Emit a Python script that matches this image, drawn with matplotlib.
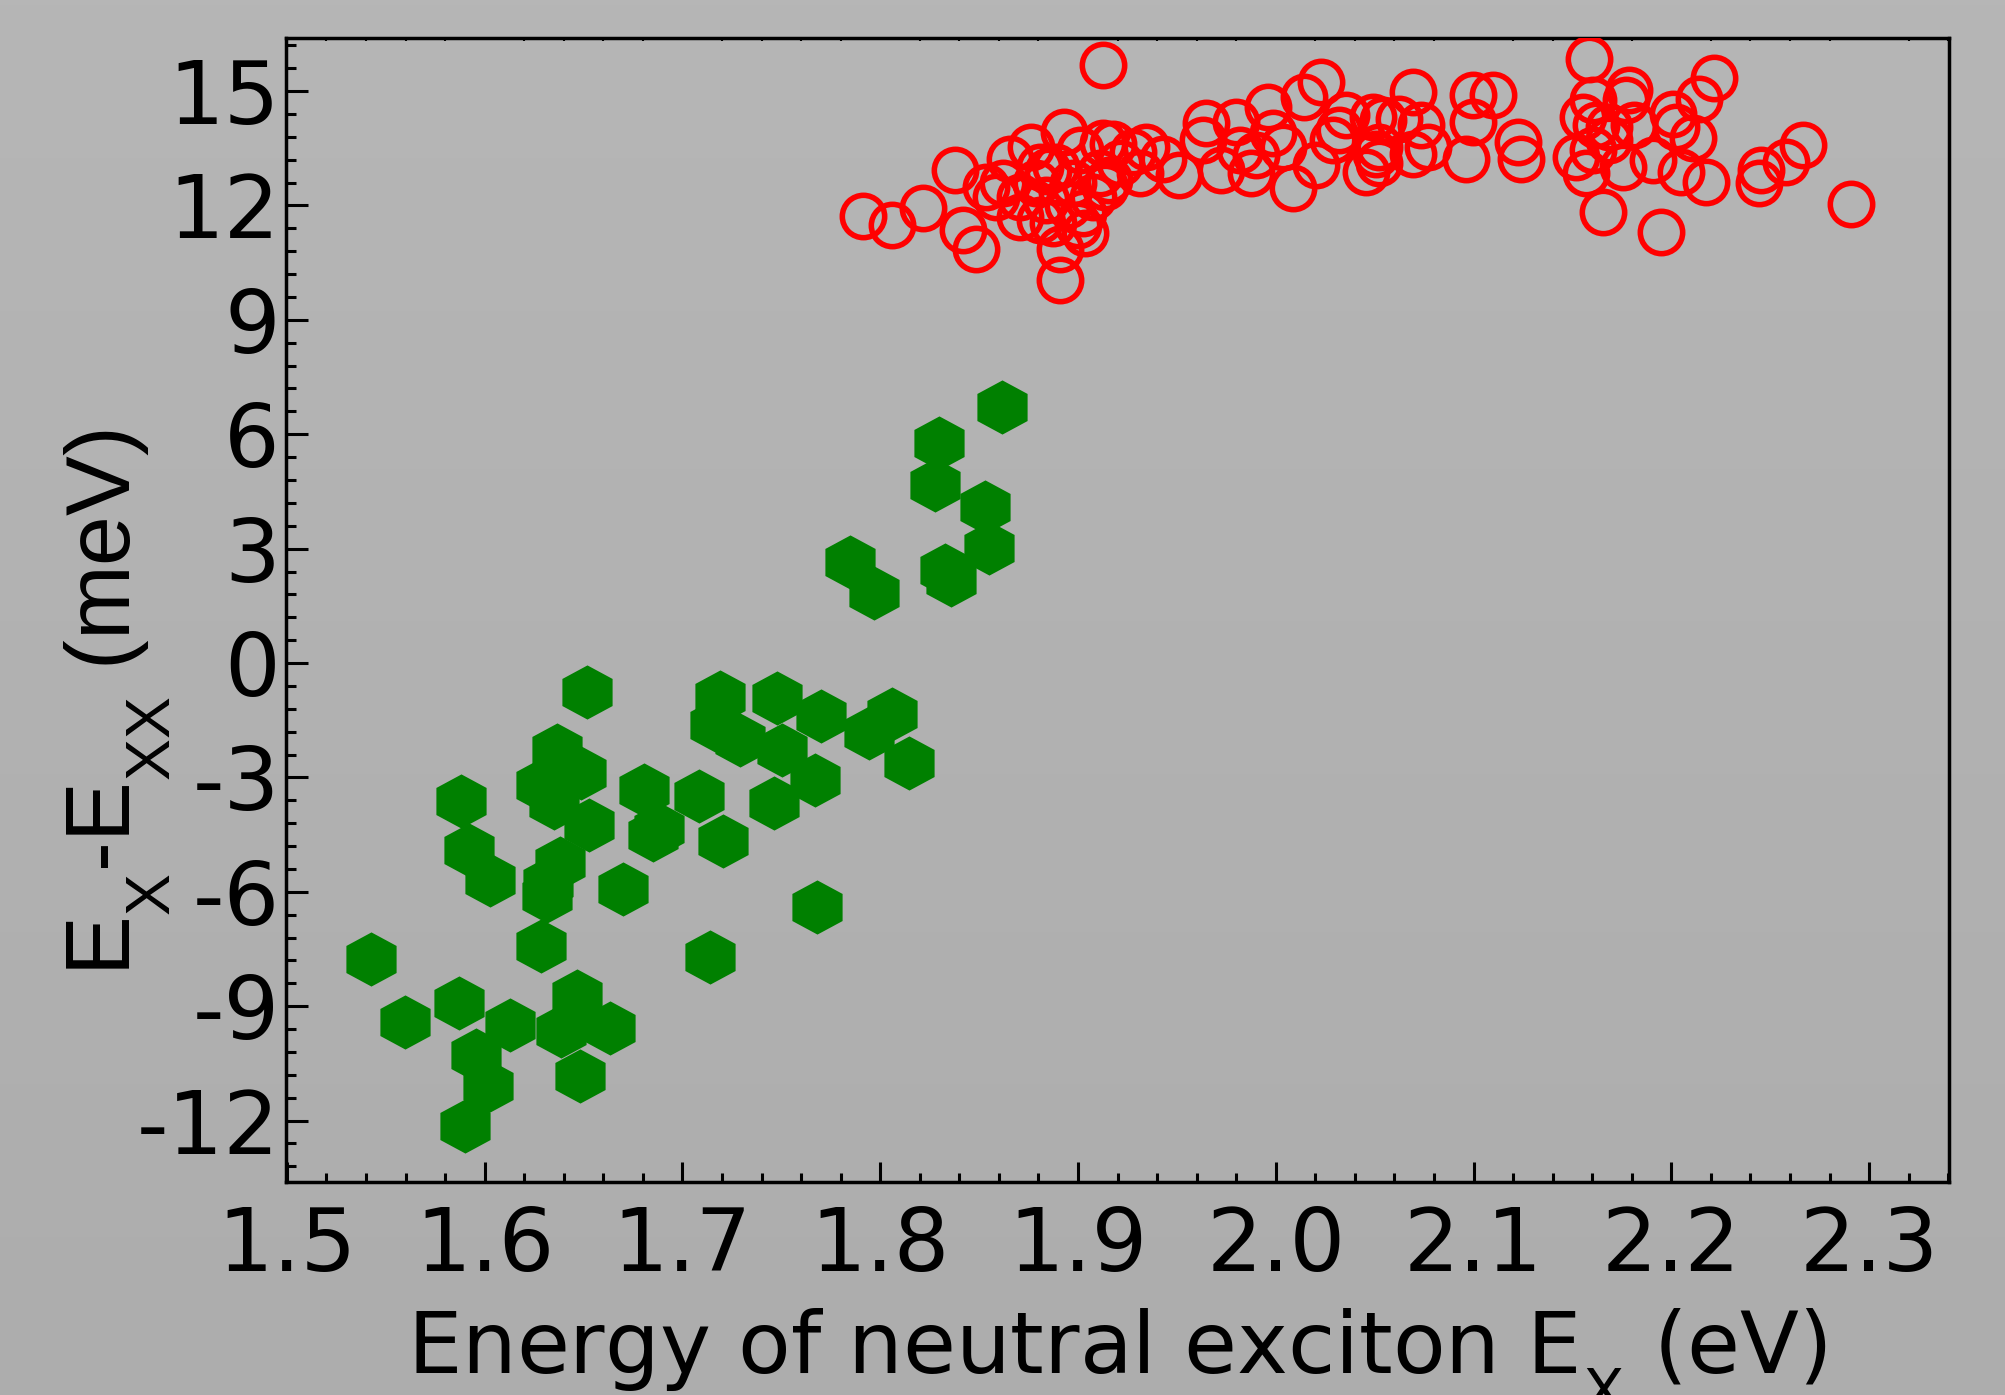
import numpy as np
import matplotlib
matplotlib.use("Agg")
import matplotlib.pyplot as plt
from matplotlib.ticker import MultipleLocator

plt.rcParams['font.family'] = ['DejaVu Sans']
plt.rcParams['axes.unicode_minus'] = False
# lower subscripts, as in the reference labels
try:
    import matplotlib._mathtext as _mt
    _mt.FontConstantsBase.subdrop = 0.85
    _mt.FontConstantsBase.sub1 = 0.85
except Exception:
    pass

# ---- data: biexciton (X - XX) energies, green hexagons ----
green_x = [1.5425, 1.5597, 1.5870, 1.5879, 1.5920, 1.6025, 1.5958, 1.6019, 1.5902, 1.6127,
           1.6285, 1.6319, 1.6314, 1.6382, 1.6364, 1.6285, 1.6488, 1.6353, 1.6529, 1.6515,
           1.6465, 1.6387, 1.6635, 1.6481, 1.6698, 1.6804, 1.6853, 1.6880, 1.7086, 1.7205,
           1.7137, 1.7192, 1.7165, 1.7289, 1.7478, 1.7503, 1.7700, 1.8060, 1.7943, 1.8146,
           1.7672, 1.7462, 1.7679, 1.7846, 1.7969, 1.8279, 1.8296, 1.8326, 1.8360, 1.8528,
           1.8550, 1.8617]
green_y = [-7.76, -9.42, -8.92, -3.63, -4.90, -5.69, -10.27, -11.10, -12.15, -9.49,
           -7.42, -5.77, -6.12, -5.25, -2.28, -3.20, -2.89, -3.68, -4.24, -0.75,
           -8.74, -9.66, -9.57, -10.84, -5.92, -3.33, -4.51, -4.35, -3.50, -4.68,
           -7.70, -0.90, -1.62, -2.02, -0.92, -2.28, -1.40, -1.34, -1.84, -2.63,
           -3.06, -3.68, -6.39, 2.66, 1.83, 4.67, 5.76, 2.44, 2.18, 4.10,
           3.01, 6.72]

# ---- data: red open circles ----
red_x = [1.7913, 1.8057, 1.8216, 1.8376, 1.8418, 1.8483, 1.8537, 1.8587, 1.8654, 1.8764,
         1.8927, 1.9008, 1.8705, 1.8705, 1.8789, 1.8840, 1.8873, 1.8907, 1.8907, 1.8974,
         1.9025, 1.9033, 1.9075, 1.9109, 1.9126, 1.9126, 1.8806, 1.8890, 1.8806, 1.9176,
         1.8620, 1.8950, 1.9000, 1.8850,
         1.9134, 1.9277, 1.9345, 1.9311, 1.9210, 1.9513, 1.9429, 1.9648, 1.9631, 1.9800,
         1.9724, 1.9817, 1.9876, 1.9901, 1.9960, 1.9985, 2.0086, 2.0145, 2.0229, 2.0204,
         2.0288, 2.0356, 2.0322, 2.0457, 2.0490, 2.0507, 2.0035, 1.9159,
         2.0692, 2.0541, 2.0625, 2.0735, 2.0524, 2.0524, 2.0692, 2.0768, 2.0996, 2.1097,
         2.0996, 2.0962, 2.1223, 2.1240, 2.1585, 2.1602, 2.1551, 2.1620, 2.1518, 2.1568,
         2.1602, 2.1686, 2.1652, 2.1771, 2.1754, 2.1810,
         2.1787, 2.1686, 2.1905, 2.2006, 2.2023, 2.2141, 2.2217, 2.2107, 2.2048, 2.2174,
         2.1947, 2.2444, 2.2453, 2.2579, 2.2663, 2.2910]
red_y = [11.73, 11.48, 11.92, 12.93, 11.35, 10.85, 12.49, 12.23, 13.23, 13.54,
         13.93, 13.45, 12.23, 11.70, 12.58, 12.14, 11.53, 10.87, 10.04, 12.58,
         11.79, 11.27, 12.23, 12.84, 13.63, 15.68, 13.01, 13.01, 11.61, 13.62,
         12.60, 12.00, 11.50, 12.90,
         12.49, 13.41, 13.54, 12.84, 13.10, 12.79, 13.23, 14.15, 13.71, 14.19,
         12.93, 13.45, 12.84, 13.32, 14.58, 13.89, 12.45, 14.85, 15.24, 13.06,
         13.71, 14.37, 13.97, 12.88, 14.32, 13.36, 13.54, 12.66,
         14.98, 14.24, 14.28, 14.10, 13.54, 13.10, 13.36, 13.54, 14.89, 14.89,
         14.19, 13.23, 13.67, 13.23, 15.85, 14.76, 14.32, 14.10, 13.27, 12.84,
         13.45, 13.71, 11.83, 14.76, 13.01, 14.10,
         15.02, 14.06, 13.19, 14.41, 14.06, 14.80, 15.33, 13.76, 12.88, 12.62,
         11.31, 12.58, 12.93, 13.14, 13.58, 12.03]

x_ticks = [1.5, 1.6, 1.7, 1.8, 1.9, 2.0, 2.1, 2.2, 2.3]
x_ticklabels = ['1.5', '1.6', '1.7', '1.8', '1.9', '2.0', '2.1', '2.2', '2.3']
y_ticks = [-12, -9, -6, -3, 0, 3, 6, 9, 12, 15]
y_ticklabels = ['-12', '-9', '-6', '-3', '0', '3', '6', '9', '12', '15']

fig = plt.figure(figsize=(20.05, 13.95), dpi=100)

# subtle vertical gradient background
bg = fig.add_axes([0, 0, 1, 1], zorder=-10)
grad = np.linspace(0, 1, 256).reshape(-1, 1)
bg.imshow(grad, aspect='auto', cmap=matplotlib.colors.LinearSegmentedColormap.from_list(
    'g', ['#b6b6b6', '#adadad']), extent=[0, 1, 0, 1], origin='upper')
bg.set_axis_off()

ax = fig.add_axes([0.1424, 0.1527, 0.9721 - 0.1424, 0.973 - 0.1527])
ax.set_facecolor('none')

# slightly wide, pointy-top hexagon marker
k = 1.07
hex_verts = [(0, 1), (0.866 * k, 0.5), (0.866 * k, -0.5), (0, -1),
             (-0.866 * k, -0.5), (-0.866 * k, 0.5), (0, 1)]

ax.plot(green_x, green_y, linestyle='none', marker=hex_verts, markersize=39,
        markerfacecolor='#008000', markeredgewidth=0, color='#008000', zorder=3)
ax.plot(red_x, red_y, linestyle='none', marker='o', markersize=30.5,
        markerfacecolor='none', markeredgecolor='#ff0000', markeredgewidth=4.0, zorder=4)

ax.set_xlim(1.4993, 2.3404)
ax.set_ylim(-13.61, 16.40)
ax.set_xticks(x_ticks)
ax.set_xticklabels(x_ticklabels)
ax.set_yticks(y_ticks)
ax.set_yticklabels(y_ticklabels)
ax.xaxis.set_minor_locator(MultipleLocator(0.02))
ax.yaxis.set_minor_locator(MultipleLocator(0.6))

for s in ax.spines.values():
    s.set_linewidth(2.5)
    s.set_color('black')

ax.tick_params(axis='x', which='major', direction='in', length=14.5, width=2.2,
               labelsize=63, pad=16.5, top=False)
ax.tick_params(axis='x', which='minor', direction='in', length=6.5, width=2.2,
               top=True)
ax.tick_params(axis='y', which='major', direction='in', length=16, width=2.2,
               labelsize=63, pad=4, right=False)
ax.tick_params(axis='y', which='minor', direction='in', length=7.5, width=2.2, right=False)
# very short marks along the top spine
for t in ax.xaxis.get_minor_ticks():
    t.tick2line.set_markersize(2.0)
    t.tick2line.set_markeredgewidth(1.5)

ax.set_xlabel(r'Energy of neutral exciton $\mathregular{E_X}$ (eV)', fontsize=62)
ax.xaxis.label.set_va('baseline')
ax.xaxis.set_label_coords(0.5, -0.1669)
ax.set_ylabel(r'$\mathregular{E_X}$-$\mathregular{E_{XX}}$ (meV)', fontsize=64.5,
              family=['Liberation Sans', 'DejaVu Sans'])
ax.yaxis.label.set_va('baseline')
ax.yaxis.set_label_coords(-0.0935, 0.4186)

fig.savefig('out.png', dpi=100)
